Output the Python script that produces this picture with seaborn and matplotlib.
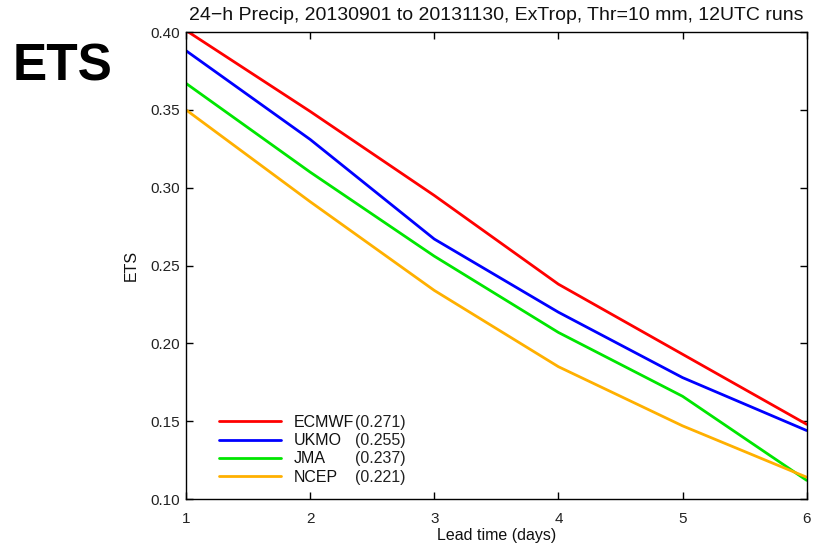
import pandas as pd
import matplotlib
matplotlib.use("Agg")
import matplotlib.pyplot as plt
import seaborn as sns

# lead time (days) and ETS per centre
lead_days = [1, 2, 3, 4, 5, 6]
ecmwf = [0.401, 0.349, 0.295, 0.238, 0.193, 0.148]
ukmo = [0.388, 0.331, 0.267, 0.220, 0.178, 0.144]
jma = [0.367, 0.310, 0.256, 0.207, 0.166, 0.112]
ncep = [0.350, 0.291, 0.234, 0.185, 0.147, 0.114]

models = ["ECMWF", "UKMO", "JMA", "NCEP"]
scores = ["(0.271)", "(0.255)", "(0.237)", "(0.221)"]
colors = {"ECMWF": "#ff0000", "UKMO": "#0000ff", "JMA": "#00e600", "NCEP": "#ffb000"}

df = pd.DataFrame({
    "lead": lead_days * 4,
    "ets": ecmwf + ukmo + jma + ncep,
    "model": [m for m in models for _ in lead_days],
})

sns.set_theme(style="ticks")
plt.rcParams["font.family"] = ["Liberation Sans", "DejaVu Sans"]
plt.rcParams["text.color"] = "#111111"
plt.rcParams["axes.labelcolor"] = "#111111"
plt.rcParams["xtick.direction"] = "in"
plt.rcParams["ytick.direction"] = "in"

fig = plt.figure(figsize=(8.14, 5.48), dpi=100)
ax = fig.add_axes([0.2285, 0.0894, 0.7625, 0.8522])

sns.lineplot(data=df, x="lead", y="ets", hue="model", hue_order=models,
             palette=colors, linewidth=2, ax=ax, legend=False)

ax.set_xlim(1, 6)
ax.set_ylim(0.10, 0.40)
ax.set_xticks(lead_days)
ax.set_yticks([0.10, 0.15, 0.20, 0.25, 0.30, 0.35, 0.40])
ax.set_yticklabels(["0.10", "0.15", "0.20", "0.25", "0.30", "0.35", "0.40"])
ax.tick_params(axis="both", labelsize=11, length=5, width=1, color="black",
               top=True, right=True, labelcolor="#222222")
ax.tick_params(axis="x", pad=9)
ax.tick_params(axis="y", pad=4)
for s in ax.spines.values():
    s.set_color("black")
    s.set_linewidth(1)

ax.set_xlabel("Lead time (days)", fontsize=11.5, labelpad=2)
ax.set_ylabel("ETS", fontsize=11.5, labelpad=9)
ax.set_title("24\u2212h Precip, 20130901 to 20131130, ExTrop, Thr=10 mm, 12UTC runs",
             fontsize=14, pad=9)

fig.text(0.016, 0.878, "ETS", fontsize=37, fontweight="bold", ha="left", va="center",
         color="black")

handles = [plt.Line2D([], [], color=colors[m], lw=2) for m in models]
leg = ax.legend(handles, models, loc="lower left", bbox_to_anchor=(0.03, 0.0),
                frameon=False, fontsize=11.5, handlelength=3.9, handletextpad=0.75,
                labelspacing=0.2)

# score column right after the longest model name
fig.canvas.draw()
renderer = fig.canvas.get_renderer()
texts = leg.get_texts()
x_right = max(t.get_window_extent(renderer).x1 for t in texts)
inv = fig.transFigure.inverted()
for t, sc in zip(texts, scores):
    bb = t.get_window_extent(renderer)
    fx, fy = inv.transform((x_right + 1, (bb.y0 + bb.y1) / 2))
    fig.text(fx, fy, sc, fontsize=11.5, ha="left", va="center", color="#222222")

fig.savefig("out.png", dpi=100)
